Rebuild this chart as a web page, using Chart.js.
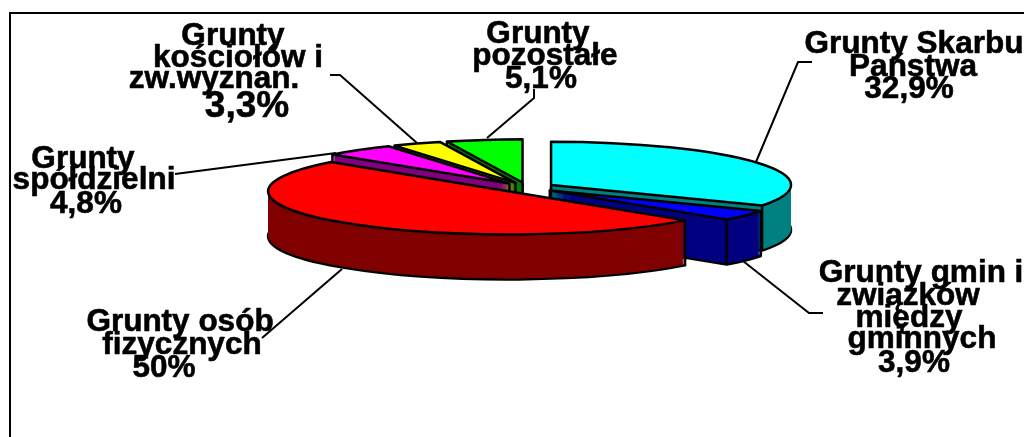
<!DOCTYPE html>
<html>
<head>
<meta charset="utf-8">
<script src="https://cdn.jsdelivr.net/npm/chart.js@4"></script>
<style>
  html, body { margin: 0; padding: 0; background: #fff; overflow: hidden; }
  canvas { display: block; }
</style>
</head>
<body>
<canvas id="myChart" width="1024" height="437"></canvas>
<script>
const categories = [
  ["Grunty Skarbu", "Państwa"],
  ["Grunty gmin i", "związków", "między", "gminnych"],
  ["Grunty osób", "fizycznych"],
  ["Grunty", "spółdzielni"],
  ["Grunty", "kościołów i", "zw.wyznan."],
  ["Grunty", "pozostałe"],
];
const shares = [32.9, 3.9, 50, 4.8, 3.3, 5.1];
const topColors = ["#00ffff", "#0000ff", "#ff0000", "#ff00ff", "#ffff00", "#00ff00"];
const wallColors = ["#008080", "#000080", "#800000", "#800080", "#808000", "#008000"];

// back slices first, the red one has to end up in front of everything
const drawOrder = [5, 4, 3, 0, 1, 2];

const flatten = 0.18; // how much the round pie gets squashed
const depth = 45;
const explode = 28;
const lineWidth = 2.5;

// [center x, baseline y] for every text line of a label, last one is the percent
const labelPlaces = [
  [[914, 53], [913, 76], [909, 98]],
  [[921, 282], [908, 305], [909, 327], [922, 348], [914, 372]],
  [[180, 331], [182, 354], [164, 377]],
  [[83, 168], [94, 189], [86, 213]],
  [[233, 45], [238, 67], [214, 88], [247, 117]],
  [[538, 43], [545, 65], [541, 88]],
];
const leaderLines = [
  [[812, 62], [798, 62], [756, 162]],
  [[823, 313], [809, 313], [743, 261]],
  [[262, 338], [342, 269]],
  [[175, 174], [336, 153]],
  [[330, 75], [340, 75], [417, 143]],
  [[534, 89], [534, 98], [487, 138]],
];

function faceOptions(fill, width) {
  return {
    backgroundColor: fill,
    borderColor: "#000",
    borderWidth: width,
    borderAlign: "center",
    borderJoinStyle: "round",
    borderDash: [],
    borderDashOffset: 0,
    borderRadius: 0,
    offset: 0,
    spacing: 0,
    circular: true,
  };
}

// draws one arc element squashed, the line width stays the same all around
function drawFace(ctx, arc, dx, dy, fill, width) {
  const oldOptions = arc.options;
  arc.options = faceOptions(fill, width);
  ctx.save();
  ctx.stroke = function () {
    CanvasRenderingContext2D.prototype.save.call(this);
    this.setTransform(1, 0, 0, 1, 0, 0);
    CanvasRenderingContext2D.prototype.stroke.call(this);
    CanvasRenderingContext2D.prototype.restore.call(this);
  };
  ctx.translate(arc.x + dx, arc.y + dy);
  ctx.scale(1, flatten);
  ctx.translate(-arc.x, -arc.y);
  arc.draw(ctx);
  delete ctx.stroke;
  ctx.restore();
  arc.options = oldOptions;
}

// a vertical edge only shows when the top of the slice is not right under the point
function drawEdge(ctx, arc, dx, dy, angle, radius) {
  const px = Math.cos(angle) * radius;
  const py = Math.sin(angle) * radius * flatten;
  if (arc.inRange(arc.x + px, arc.y + (py + 3) / flatten)) return;
  ctx.beginPath();
  ctx.moveTo(arc.x + dx + px, arc.y + dy + py);
  ctx.lineTo(arc.x + dx + px, arc.y + dy + py + depth);
  ctx.stroke();
}

function drawSlice(ctx, arc, wall, top) {
  const mid = (arc.startAngle + arc.endAngle) / 2;
  const dx = Math.cos(mid) * explode;
  const dy = Math.sin(mid) * explode * flatten;

  drawFace(ctx, arc, dx, dy + depth, wall, lineWidth);
  for (let d = depth - 1; d > 0; d--) {
    drawFace(ctx, arc, dx, dy + d, wall, 0);
  }

  // corners of the slice and the far left / far right of the pie
  const angles = [arc.startAngle, arc.endAngle];
  [0, Math.PI].forEach((a) => {
    if (a > arc.startAngle && a < arc.endAngle) angles.push(a);
  });
  ctx.save();
  ctx.strokeStyle = "#000";
  ctx.lineWidth = lineWidth;
  drawEdge(ctx, arc, dx, dy, mid, 0);
  angles.forEach((a) => drawEdge(ctx, arc, dx, dy, a, arc.outerRadius - 0.01));
  ctx.restore();

  drawFace(ctx, arc, dx, dy, top, lineWidth);
}

const flatPie = {
  id: "flatPie",
  beforeDatasetDraw(chart) {
    const arcs = chart.getDatasetMeta(0).data;
    drawOrder.forEach((i) => {
      drawSlice(chart.ctx, arcs[i], wallColors[i], topColors[i]);
    });
    return false;
  },
  beforeDraw(chart) {
    const ctx = chart.ctx;
    ctx.save();
    ctx.fillStyle = "#fff";
    ctx.fillRect(0, 0, chart.width, chart.height);
    ctx.strokeStyle = "#000";
    ctx.lineWidth = 2;
    ctx.strokeRect(10, 13, chart.width + 20, chart.height + 20);
    ctx.restore();
  },
  afterDraw(chart) {
    const ctx = chart.ctx;
    ctx.save();
    ctx.strokeStyle = "#000";
    ctx.lineWidth = 2;
    leaderLines.forEach((line) => {
      ctx.beginPath();
      line.forEach((p, n) => (n ? ctx.lineTo(p[0], p[1]) : ctx.moveTo(p[0], p[1])));
      ctx.stroke();
    });
    // the reference text is heavier than plain bold, so a thin stroke goes on top
    ctx.fillStyle = "#000";
    ctx.lineWidth = 0.6;
    ctx.lineJoin = "round";
    ctx.textAlign = "center";
    ctx.textBaseline = "alphabetic";
    categories.forEach((lines, i) => {
      const percent = String(shares[i]).replace(".", ",") + "%";
      lines.concat(percent).forEach((text, n) => {
        const isBig = shares[i] === 3.3 && n === lines.length;
        ctx.font = "bold " + (isBig ? 37 : 31.5) + "px 'Liberation Sans', Arial, sans-serif";
        ctx.fillText(text, labelPlaces[i][n][0], labelPlaces[i][n][1]);
        ctx.strokeText(text, labelPlaces[i][n][0], labelPlaces[i][n][1]);
      });
    });
    ctx.restore();
  },
};

const pieCtx = document.getElementById("myChart").getContext("2d");
new Chart(pieCtx, {
  type: "pie",
  data: {
    labels: categories.map((c) => c.join(" ")),
    datasets: [{ data: shares, backgroundColor: topColors }],
  },
  options: {
    responsive: false,
    animation: false,
    radius: 240,
    layout: { padding: { left: 30, bottom: 62 } },
    plugins: { legend: { display: false }, tooltip: { enabled: false } },
  },
  plugins: [flatPie],
});
</script>
</body>
</html>
